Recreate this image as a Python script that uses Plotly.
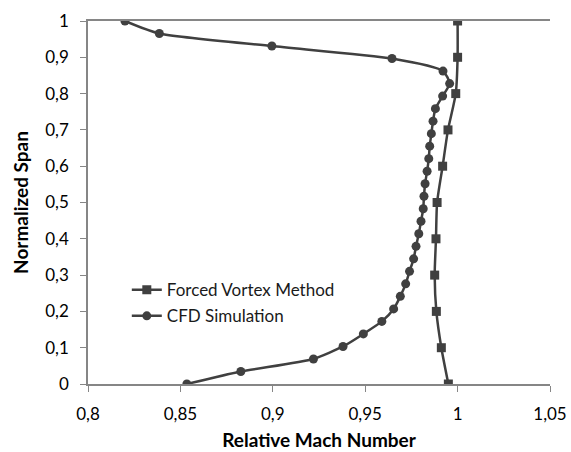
import plotly.graph_objects as go

# Forced Vortex Method
fv_span = [0, 0.1, 0.2, 0.3, 0.4, 0.5, 0.6, 0.7, 0.8, 0.9, 1.0]
fv_mach = [0.995, 0.9912, 0.9885, 0.9876, 0.9883, 0.9889, 0.9919, 0.9948, 0.999, 1.0, 1.0]

# CFD Simulation (30 points, span k/29)
cfd_span = [0.0, 0.0345, 0.069, 0.1034, 0.1379, 0.1724, 0.2069, 0.2414, 0.2759, 0.3103,
            0.3448, 0.3793, 0.4138, 0.4483, 0.4828, 0.5172, 0.5517, 0.5862, 0.6207, 0.6552,
            0.6897, 0.7241, 0.7586, 0.7931, 0.8276, 0.8621, 0.8966, 0.931, 0.9655, 1.0]
cfd_mach = [0.8535, 0.8827, 0.922, 0.938, 0.949, 0.959, 0.9654, 0.969, 0.9719, 0.974,
            0.9762, 0.9775, 0.979, 0.9802, 0.9814, 0.9818, 0.9824, 0.9835, 0.9844, 0.9849,
            0.9858, 0.9867, 0.988, 0.9919, 0.9957, 0.9921, 0.9645, 0.8995, 0.8386, 0.820]

x_ticks = [0.8, 0.85, 0.9, 0.95, 1.0, 1.05]
x_labels = ["0,8", "0,85", "0,9", "0,95", "1", "1,05"]
y_ticks = [0, 0.1, 0.2, 0.3, 0.4, 0.5, 0.6, 0.7, 0.8, 0.9, 1.0]
y_labels = ["0", "0,1", "0,2", "0,3", "0,4", "0,5", "0,6", "0,7", "0,8", "0,9", "1"]

line_col = "#404040"
axis_col = "#868686"
font_fam = "Lato, Open Sans, sans-serif"

fig = go.Figure()
fig.add_trace(go.Scatter(
    x=fv_mach, y=fv_span, name="Forced Vortex Method", mode="lines+markers",
    legendgroup="fv",
    line=dict(color=line_col, width=2.5, shape="spline", smoothing=0.6),
    marker=dict(symbol="square", size=9, color=line_col),
))
fig.add_trace(go.Scatter(
    x=cfd_mach, y=cfd_span, name="CFD Simulation", mode="lines+markers",
    legendgroup="cfd",
    line=dict(color=line_col, width=2.5, shape="spline", smoothing=0.6),
    marker=dict(symbol="circle", size=9, color=line_col),
))

fig.update_layout(
    width=571, height=452,
    margin=dict(l=88, r=21, t=21, b=68),
    paper_bgcolor="white", plot_bgcolor="white",
    font=dict(family=font_fam, size=17, color="#000000"),
    showlegend=True,
    legend=dict(x=0.084, y=0.308, xanchor="left", yanchor="top",
                bgcolor="rgba(0,0,0,0)", font=dict(size=17, color="#1a1a1a"),
                traceorder="grouped", tracegroupgap=1),
    xaxis=dict(range=[0.8, 1.05], tickvals=x_ticks, ticktext=x_labels,
               automargin=False,
               showgrid=False, zeroline=False, showline=True, linecolor=axis_col,
               linewidth=1.5, mirror=True, ticks="outside", ticklen=6, tickcolor=axis_col,
               ticklabelstandoff=8,
               title=dict(text="<b>Relative Mach Number</b>", standoff=11,
                          font=dict(size=19))),
    yaxis=dict(range=[0, 1.0], tickvals=y_ticks, ticktext=y_labels,
               automargin=False,
               showgrid=False, zeroline=False, showline=True, linecolor=axis_col,
               linewidth=1.5, ticks="outside", ticklen=6, tickcolor=axis_col,
               ticklabelstandoff=8,
               title=dict(text="<b>Normalized Span</b>", standoff=12,
                          font=dict(size=19))),
)

fig.write_html("out.html")
